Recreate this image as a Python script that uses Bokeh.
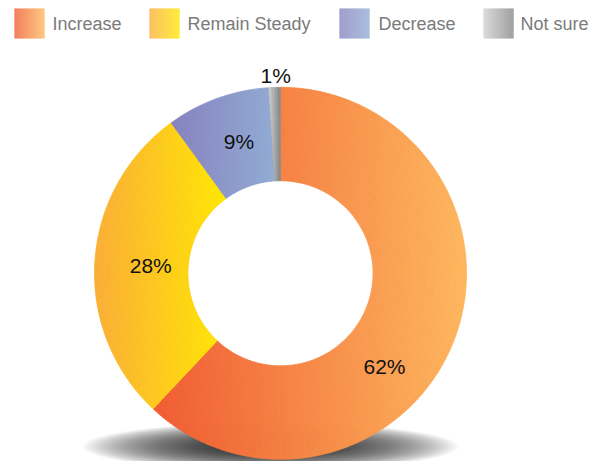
import math
import numpy as np
from bokeh.plotting import figure
from bokeh.models import Range1d, ColumnDataSource
from bokeh.embed import file_html
from bokeh.resources import INLINE
from bokeh.core.properties import value

# ---------------- data ----------------
categories = ["Increase", "Remain Steady", "Decrease", "Not sure"]
shares = [62, 28, 9, 1]
pct_labels = ["62%", "28%", "9%", "1%"]

# gradient colours (left -> right) of each slice / legend swatch
grad_left = ["#F05A30", "#FAAD36", "#8581BE", "#CFCFCF"]
grad_right = ["#FDB65C", "#FFE600", "#90AAD3", "#858585"]

# ---------------- layout ----------------
W, H = 608, 461
OX, OY = 0, 0


def dx(xs):
    return xs - OX


def dy(ys):
    return H - (ys - OY)


CX, CY = dx(280.0), dy(272.8)
R_OUT, R_IN = 186.0, 92.5

label_angle = [131.8, 273.3, 342.5, 358.6]   # degrees clockwise from 12 o'clock
label_radius = [139.5, 130.0, 138.0, 198.0]

legend_box_x = [14, 149, 339, 483]
legend_text_x = [52, 187, 378, 520]


def hex2rgb(h):
    h = h.lstrip("#")
    return np.array([int(h[i:i + 2], 16) for i in (0, 2, 4)], dtype=float)


def mix(c0, c1, t):
    c = hex2rgb(c0) * (1 - t) + hex2rgb(c1) * t
    return "#%02x%02x%02x" % tuple(int(round(v)) for v in c)


p = figure(width=W, height=H, x_range=Range1d(0, W), y_range=Range1d(0, H),
           output_backend="svg", toolbar_location=None,
           x_axis_type=None, y_axis_type=None, min_border=0)
p.grid.visible = False
p.outline_line_color = None
p.background_fill_color = "white"
p.border_fill_color = "white"

# ---------------- shadow ----------------
N_SH = 60
ks = np.linspace(1.0, 0.03, N_SH) ** 0.8
p.ellipse(x=[dx(270.0)] * N_SH, y=[dy(446.0)] * N_SH,
          width=list(376 * ks), height=list(48 * ks),
          fill_color="black", fill_alpha=0.022, line_color=None)

# ---------------- donut with horizontal gradients ----------------
total = float(sum(shares))
cum = np.concatenate([[0.0], np.cumsum(shares)]) / total * 360.0
N_RAD = 12
rs = np.linspace(R_IN, R_OUT, N_RAD + 1)
cells = dict(x=[], y=[], ir=[], orr=[], sa=[], ea=[], c=[])
for i in range(len(shares)):
    t0, t1 = cum[i], cum[i + 1]
    samp = np.linspace(t0, t1, 600)
    xs_b = np.concatenate([CX + R_OUT * np.sin(np.radians(samp)),
                           CX + R_IN * np.sin(np.radians(samp))])
    xmin, xmax = xs_b.min(), xs_b.max()
    n_ang = max(2, int(math.ceil((t1 - t0) / 1.0)))
    th = np.linspace(t0, t1, n_ang + 1)
    for a in range(n_ang):
        ta, tb = th[a], th[a + 1]
        tm = 0.5 * (ta + tb)
        for r in range(N_RAD):
            rm = 0.5 * (rs[r] + rs[r + 1])
            xc = CX + rm * math.sin(math.radians(tm))
            t = min(1.0, max(0.0, (xc - xmin) / (xmax - xmin)))
            cells["x"].append(CX)
            cells["y"].append(CY)
            cells["ir"].append(rs[r])
            cells["orr"].append(rs[r + 1])
            cells["sa"].append(math.radians(90 - tb))
            cells["ea"].append(math.radians(90 - ta))
            cells["c"].append(mix(grad_left[i], grad_right[i], t))

src = ColumnDataSource(cells)
p.annular_wedge(x="x", y="y", inner_radius="ir", outer_radius="orr",
                start_angle="sa", end_angle="ea", source=src,
                fill_color="c", line_color="c", line_width=0.7)

# ---------------- percentage labels ----------------
lx = [CX + r * math.sin(math.radians(a)) for a, r in zip(label_angle, label_radius)]
ly = [CY + r * math.cos(math.radians(a)) for a, r in zip(label_angle, label_radius)]
p.text(x=lx, y=ly, text=pct_labels, text_align="center", text_baseline="middle",
       text_font=value("Liberation Sans"), text_font_size="21px", text_color="#111111")

# ---------------- legend ----------------
N_STRIP = 30
for i in range(len(categories)):
    lefts = [dx(legend_box_x[i] + k) for k in range(N_STRIP)]
    rights = [l + 1.05 for l in lefts]
    cols = [mix(grad_left[i], grad_right[i], k / (N_STRIP - 1)) for k in range(N_STRIP)]
    p.quad(left=lefts, right=rights, top=[dy(8)] * N_STRIP, bottom=[dy(38)] * N_STRIP,
           fill_color=cols, line_color=None)
p.text(x=[dx(v) for v in legend_text_x], y=[dy(23.5)] * len(categories), text=categories,
       text_align="left", text_baseline="middle",
       text_font=value("Liberation Sans"), text_font_size="18px", text_color="#7a7a7a")

html = file_html(p, INLINE)
open("out.html", "w").write(html)
